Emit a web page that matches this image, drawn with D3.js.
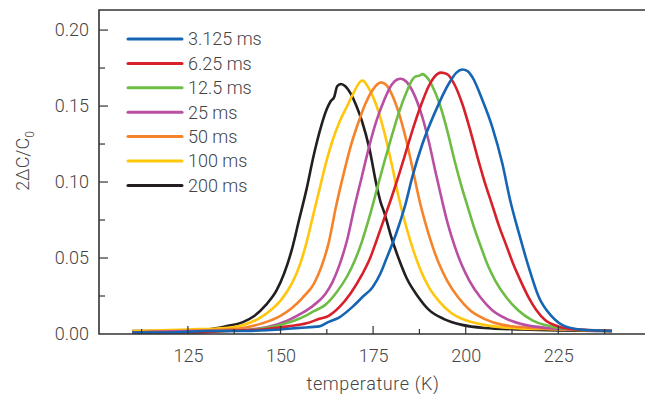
<!DOCTYPE html>
<html>
<head>
<meta charset="utf-8">
<script src="https://cdn.jsdelivr.net/npm/d3@7"></script>
<style>
  body { margin: 0; background: #fff; }
  svg text { font-family: Roboto, "Noto Sans", sans-serif; font-weight: 300; fill: #444; }
</style>
</head>
<body>
<div id="chart"></div>
<script>
// pulse lengths (legend labels)
const labels = ["3.125 ms", "6.25 ms", "12.5 ms", "25 ms", "50 ms", "100 ms", "200 ms"];
const colors = ["#1565b4", "#d7202a", "#6dbd45", "#b84fa2", "#f5832a", "#ffc60b", "#231f20"];

const xTicks = [125, 150, 175, 200, 225];
const yTicks = [0, 0.05, 0.10, 0.15, 0.20];

// [temperature K, 2dC/C0]
const s3125 = [[110,0.001],[120,0.001],[130,0.002],[140,0.002],[150,0.003],[155,0.004],[160.5,0.005],[163,0.008],[165.9,0.011],[169.5,0.018],[172,0.024],[174.9,0.031],[177,0.040],[178.5,0.049],[181.2,0.066],[183.8,0.086],[185.6,0.1035],[188.3,0.125],[191.9,0.147],[195.5,0.165],[197.5,0.172],[199.1,0.174],[200.5,0.173],[201.8,0.169],[204.5,0.154],[207.2,0.136],[209.9,0.112],[212,0.088],[214.4,0.066],[217,0.044],[219.7,0.0245],[223.3,0.0114],[226.9,0.005],[232.3,0.0026],[239.5,0.002]];
const s625 = [[110,0.001],[125,0.001],[135,0.002],[145,0.003],[152,0.005],[157,0.007],[160.5,0.010],[163,0.012],[166,0.018],[169,0.027],[172,0.039],[174.2,0.050],[176,0.062],[178,0.076],[180,0.090],[182,0.105],[184,0.121],[186,0.137],[188,0.151],[190,0.163],[191.5,0.169],[193.3,0.172],[195,0.171],[197,0.164],[199,0.152],[201,0.136],[203,0.118],[205,0.101],[207,0.086],[209,0.071],[211,0.058],[213,0.045],[215,0.034],[217,0.024],[219,0.016],[221.5,0.009],[225,0.005],[230,0.003],[239.5,0.002]];
const s125 = [[110,0.001],[125,0.001],[135,0.002],[143,0.003],[150,0.006],[155,0.010],[159,0.015],[162,0.019],[165,0.027],[168,0.038],[170,0.048],[172,0.061],[174,0.077],[176,0.095],[178,0.113],[180,0.130],[182,0.146],[184,0.159],[185.5,0.167],[186.5,0.1695],[187.5,0.170],[188.3,0.171],[189.5,0.169],[191,0.163],[193,0.151],[195,0.134],[197,0.114],[199,0.096],[200.5,0.084],[202,0.072],[204,0.058],[206,0.045],[208,0.035],[211,0.024],[214,0.016],[218,0.009],[223,0.005],[230,0.003],[239.5,0.002]];
const s25 = [[110,0.001],[125,0.002],[135,0.002],[142,0.003],[147,0.005],[152,0.009],[156,0.014],[159,0.019],[162,0.026],[164,0.034],[166,0.046],[168,0.062],[170,0.084],[172,0.104],[174,0.124],[176,0.141],[178,0.154],[180,0.164],[181.5,0.1675],[182.5,0.168],[184,0.166],[186,0.158],[188,0.145],[190,0.127],[192,0.105],[193.6,0.088],[195,0.074],[197,0.058],[199,0.045],[201,0.035],[204,0.024],[207,0.016],[211,0.010],[216,0.006],[222,0.004],[230,0.003],[239.5,0.002]];
const s50 = [[110,0.001],[125,0.002],[135,0.003],[140,0.004],[145,0.007],[150,0.012],[153,0.017],[156,0.024],[159,0.033],[161,0.044],[163,0.060],[165,0.084],[167,0.105],[169,0.124],[171,0.139],[173,0.152],[175,0.161],[176,0.164],[177.1,0.1656],[178.5,0.164],[180,0.158],[182,0.145],[184,0.127],[186,0.105],[187.5,0.088],[189,0.074],[191,0.058],[193,0.045],[195,0.035],[198,0.024],[201,0.016],[205,0.010],[210,0.006],[218,0.004],[228,0.003],[239.5,0.002]];
const s100 = [[110,0.002],[125,0.003],[135,0.004],[140,0.006],[144,0.010],[147,0.015],[150,0.022],[153,0.033],[155,0.044],[157,0.060],[159,0.080],[160.5,0.095],[162,0.110],[164,0.127],[166,0.140],[168,0.150],[170,0.160],[171.5,0.166],[172.2,0.1667],[173.5,0.163],[175,0.156],[176.5,0.146],[178,0.133],[180,0.112],[182,0.089],[184,0.070],[186,0.054],[188,0.041],[190,0.031],[193,0.021],[196,0.014],[200,0.009],[205,0.006],[212,0.004],[225,0.003],[239.5,0.002]];
const s200 = [[110,0.002],[120,0.002],[130,0.003],[135,0.005],[140,0.008],[143,0.012],[146,0.019],[149,0.029],[151,0.040],[153,0.055],[155,0.075],[157,0.095],[159,0.118],[161,0.137],[162.5,0.148],[163.5,0.153],[164.5,0.156],[165.3,0.163],[166.3,0.1645],[167.5,0.163],[169,0.158],[170.5,0.150],[172,0.140],[174,0.122],[176,0.097],[177,0.087],[178,0.080],[180,0.063],[182,0.049],[184,0.037],[187,0.025],[190,0.016],[194,0.010],[199,0.006],[205,0.004],[215,0.003],[239.5,0.002]];

const series = [s3125, s625, s125, s25, s50, s100, s200];

const width = 645, height = 398;
const svg = d3.select("#chart").append("svg")
  .attr("width", width)
  .attr("height", height);

const x = d3.scaleLinear().domain([101, 248.4]).range([99, 645]);
const y = d3.scaleLinear().domain([0, 0.2132]).range([334, 10]);

// curves (drawn in reverse so blue sits on top like the original)
const line = d3.line()
  .x(d => x(d[0]))
  .y(d => y(d[1]))
  .curve(d3.curveMonotoneX);

svg.append("g")
  .selectAll("path")
  .data(series.map((s, i) => ({ s, i })).reverse())
  .enter()
  .append("path")
  .attr("d", d => line(d.s))
  .attr("fill", "none")
  .attr("stroke", d => colors[d.i])
  .attr("stroke-width", 2.6)
  .attr("stroke-linejoin", "round");

// x axis: ticks pointing inward
const xAxis = d3.axisBottom(x).tickValues(xTicks).tickSize(0).tickFormat(d3.format("d"));
svg.append("g")
  .attr("transform", "translate(0,334)")
  .call(xAxis)
  .call(g => g.select(".domain").remove())
  .selectAll("text")
  .attr("y", 15)
  .attr("dy", "0.71em")
  .style("font-size", "18px");

const xMinor = d3.range(112.5, 240, 12.5);
svg.append("g").selectAll("line")
  .data(xMinor)
  .enter()
  .append("line")
  .attr("x1", d => x(d)).attr("x2", d => x(d))
  .attr("y1", 334)
  .attr("y2", d => xTicks.includes(d) ? 326 : 329)
  .attr("stroke", "#333").attr("stroke-width", 1.2);

// y axis: ticks pointing inward
const yAxis = d3.axisLeft(y).tickValues(yTicks).tickSize(0).tickFormat(d3.format(".2f"));
svg.append("g")
  .attr("transform", "translate(99,0)")
  .call(yAxis)
  .call(g => g.select(".domain").remove())
  .selectAll("text")
  .attr("x", -10)
  .style("font-size", "18px");

const yMinor = d3.range(0.025, 0.21, 0.025);
svg.append("g").selectAll("line")
  .data(yMinor)
  .enter()
  .append("line")
  .attr("y1", d => y(d)).attr("y2", d => y(d))
  .attr("x1", 99)
  .attr("x2", (d, i) => i % 2 === 1 ? 108 : 105)
  .attr("stroke", "#333").attr("stroke-width", 1.2);

// frame: top, left, bottom
svg.append("path")
  .attr("d", "M645,10H99V334H645")
  .attr("fill", "none")
  .attr("stroke", "#333")
  .attr("stroke-width", 1.6);

// axis titles
svg.append("text")
  .attr("x", 373)
  .attr("y", 390)
  .attr("text-anchor", "middle")
  .style("font-size", "18px")
  .style("letter-spacing", "0.6px")
  .text("temperature (K)");

const yt = svg.append("text")
  .attr("transform", "translate(29,161) rotate(-90)")
  .attr("text-anchor", "middle")
  .style("font-size", "18px");
yt.append("tspan").text("2ΔC/C");
yt.append("tspan").attr("dy", 5).style("font-size", "12px").text("0");

// legend
const legend = svg.append("g").selectAll("g")
  .data(labels)
  .enter()
  .append("g")
  .attr("transform", (d, i) => `translate(128,${39 + i * 24.4})`);

legend.append("line")
  .attr("x1", 0).attr("x2", 54)
  .attr("stroke", (d, i) => colors[i])
  .attr("stroke-width", 3)
  .attr("stroke-linecap", "round");

legend.append("text")
  .attr("x", 60)
  .attr("dy", "0.35em")
  .style("font-size", "18px")
  .text(d => d);
</script>
</body>
</html>
